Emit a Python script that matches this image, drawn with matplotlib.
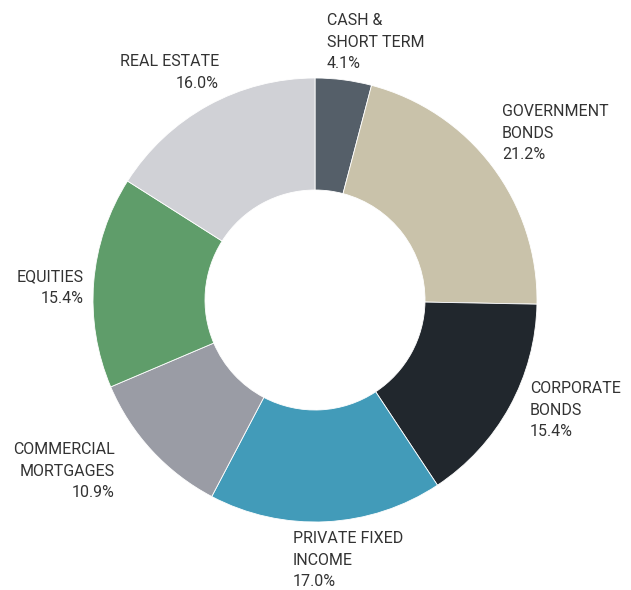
import matplotlib.pyplot as plt

# portfolio mix, clockwise from 12 o'clock
labels = ['CASH &\nSHORT TERM', 'GOVERNMENT\nBONDS', 'CORPORATE\nBONDS',
          'PRIVATE FIXED\nINCOME', 'COMMERCIAL\nMORTGAGES', 'EQUITIES', 'REAL ESTATE']
shares = [4.1, 21.2, 15.4, 17.0, 10.9, 15.4, 16.0]
colors = ['#555f69', '#c9c2aa', '#21272d', '#429bb9', '#9a9ca5', '#5f9d6a', '#d0d1d6']

# label anchor (pixels from top-left) and alignment
label_pos = [(327, 13, 'left'), (502, 104, 'left'), (530, 381, 'left'),
             (293, 531, 'left'), (115, 442, 'right'), (84, 269, 'right'),
             (219, 54, 'right')]

W, H = 631, 590
plt.rcParams['font.family'] = ['Roboto', 'DejaVu Sans']

fig = plt.figure(figsize=(W / 100, H / 100), dpi=100)
ax = fig.add_axes([0, 0, 1, 1])

ax.pie(shares, colors=colors, startangle=90, counterclock=False,
       center=(315, H - 300), radius=222,
       wedgeprops=dict(width=112, edgecolor='white', linewidth=0.6),
       frame=True)
ax.set_xlim(0, W)
ax.set_ylim(0, H)
ax.set_aspect('equal')
ax.axis('off')

for lab, val, (x, y, ha) in zip(labels, shares, label_pos):
    ax.text(x, H - y, lab + '\n' + f'{val:.1f}%', ha=ha, va='top',
            fontsize=11.5, color='#333333', linespacing=1.56)

fig.savefig('out.png', dpi=100)
